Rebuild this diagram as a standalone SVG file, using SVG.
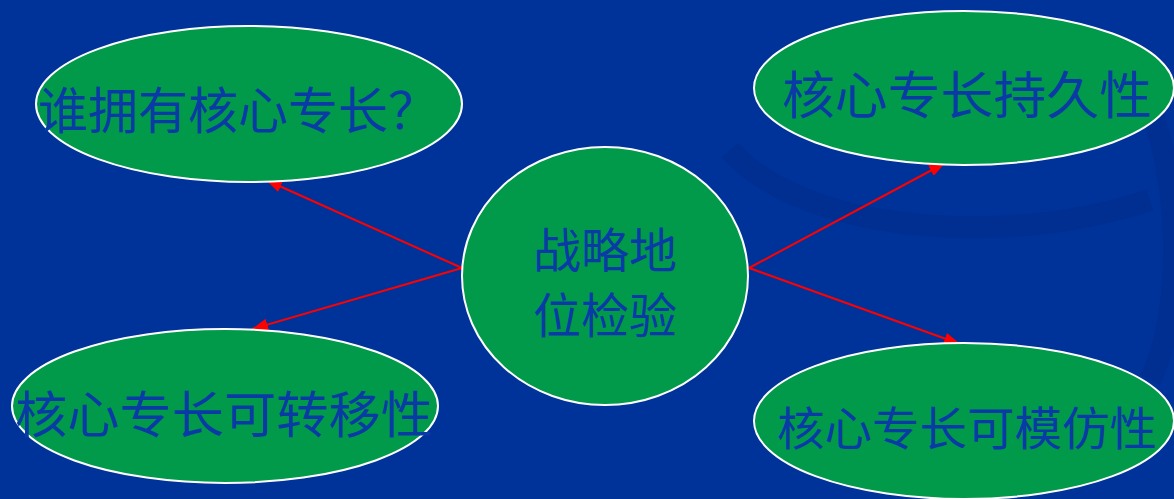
<svg xmlns="http://www.w3.org/2000/svg" width="1174" height="499" viewBox="0 0 1174 499">
  <defs>
    <marker id="ah" viewBox="0 0 16 12" refX="16" refY="6" markerWidth="16" markerHeight="12" markerUnits="userSpaceOnUse" orient="auto">
      <path d="M0,0 L16,6 L0,12 z" fill="#ff0000"/>
    </marker>
    <style>
      .node { fill: #009a4a; stroke: #ffffff; stroke-width: 2; }
      .lbl { font-family: "Noto Sans CJK SC", "Noto Sans", sans-serif; fill: #0a3aa6; text-anchor: middle; dominant-baseline: central; }
      .conn { stroke: #ff0000; stroke-width: 2; fill: none; }
    </style>
  </defs>
  <rect x="0" y="0" width="1174" height="499" fill="#003399"/>
  <g opacity="0.15" fill="none" stroke="#001a66" stroke-width="22">
    <path d="M730,150 C800,230 1000,250 1150,200"/>
    <path d="M1120,60 C1180,120 1190,300 1150,380"/>
  </g>
  <g id="connectors">
    <line class="conn" x1="462" y1="268" x2="266" y2="180" marker-end="url(#ah)"/>
    <line class="conn" x1="462" y1="268" x2="252" y2="329" marker-end="url(#ah)"/>
    <line class="conn" x1="749" y1="268" x2="945" y2="163" marker-end="url(#ah)"/>
    <line class="conn" x1="749" y1="268" x2="960" y2="344" marker-end="url(#ah)"/>
  </g>
  <g id="node-center">
    <ellipse class="node" cx="605" cy="276" rx="143" ry="129"/>
    <text class="lbl" x="605" y="247" font-size="48">战略地</text>
    <text class="lbl" x="605" y="312" font-size="48">位检验</text>
  </g>
  <g id="node-tl">
    <ellipse class="node" cx="249" cy="104" rx="213" ry="78"/>
    <text class="lbl" x="238" y="107" font-size="50" textLength="400" lengthAdjust="spacingAndGlyphs">谁拥有核心专长？</text>
  </g>
  <g id="node-tr">
    <ellipse class="node" cx="964" cy="88" rx="210" ry="77"/>
    <text class="lbl" x="967" y="92" font-size="51" textLength="370" lengthAdjust="spacingAndGlyphs">核心专长持久性</text>
  </g>
  <g id="node-bl">
    <ellipse class="node" cx="225" cy="406" rx="213" ry="77"/>
    <text class="lbl" x="224" y="411" font-size="50" textLength="418" lengthAdjust="spacingAndGlyphs">核心专长可转移性</text>
  </g>
  <g id="node-br">
    <ellipse class="node" cx="964" cy="421" rx="210" ry="78"/>
    <text class="lbl" x="967" y="425" font-size="46" textLength="380" lengthAdjust="spacingAndGlyphs">核心专长可模仿性</text>
  </g>
</svg>
